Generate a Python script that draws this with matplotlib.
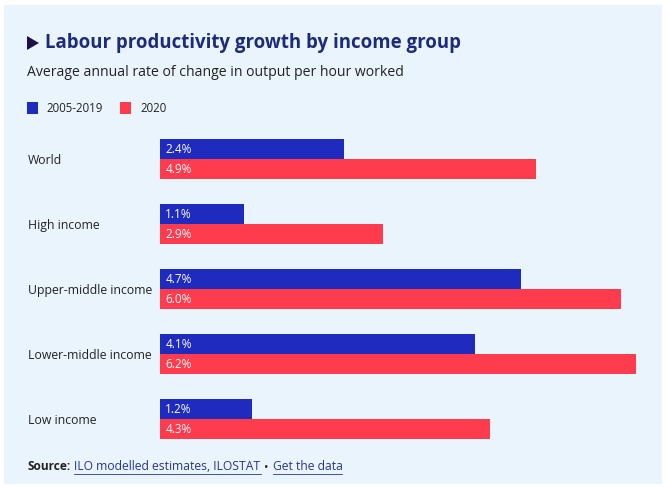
import numpy as np
import matplotlib.pyplot as plt
import matplotlib.transforms as mtrans
from matplotlib.patches import Rectangle, Polygon

groups = ['World', 'High income', 'Upper-middle income', 'Lower-middle income', 'Low income']
series_names = ['2005-2019', '2020']
v_2005_2019 = [2.4, 1.1, 4.7, 4.1, 1.2]
v_2020 = [4.9, 2.9, 6.0, 6.2, 4.3]

BLUE = '#1f2bbf'
RED = '#ff3b4e'
BG = '#eaf4fd'
NAVY = '#1e2a7a'
LINK = '#2a3590'

W, H = 667, 487
plt.rcParams['font.family'] = ['Open Sans', 'DejaVu Sans']
fig = plt.figure(figsize=(W / 100, H / 100), dpi=100, facecolor='white')


def fx(px):
    return px / W


def fy(py):
    return 1 - py / H


# light panel behind everything
fig.patches.append(Rectangle((fx(4), fy(484)), 658 / W, 479 / H,
                             transform=fig.transFigure, facecolor=BG,
                             edgecolor='none', zorder=-5))

# title + marker
fig.patches.append(Polygon([(fx(27), fy(36)), (fx(27), fy(50)), (fx(39), fy(43))],
                           closed=True, transform=fig.transFigure,
                           facecolor='#1a1245', edgecolor='none'))
fig.text(fx(45), fy(43), 'Labour productivity growth by income group', fontsize=13.4,
         fontweight='bold', color=NAVY, va='center', ha='left')
fig.text(fx(27), fy(72), 'Average annual rate of change in output per hour worked',
         fontsize=10.1, color='#222222', va='center', ha='left')

# legend
for sx, tx, col, name in [(27, 46, BLUE, series_names[0]), (120, 140, RED, series_names[1])]:
    fig.patches.append(Rectangle((fx(sx), fy(114)), 11 / W, 12 / H,
                                 transform=fig.transFigure, facecolor=col, edgecolor='none'))
    fig.text(fx(tx), fy(108), name, fontsize=8.3, color='#222222', va='center', ha='left')

# bars
top_px, bot_px = 130, 445
ax = fig.add_axes([fx(160), fy(bot_px), fx(640) - fx(160), (bot_px - top_px) / H])
ax.set_facecolor('none')
unit = 65.0
span = (bot_px - top_px) / unit
off = (159 - top_px) / unit
ax.set_ylim(span - off, -off)
ax.set_xlim(0, (640 - 160) / 76.8)
bh = 20 / unit
y = np.arange(len(groups))
ax.barh(y - bh / 2, v_2005_2019, height=bh, color=BLUE)
ax.barh(y + bh / 2, v_2020, height=bh, color=RED)
lab_tr = mtrans.blended_transform_factory(fig.transFigure, ax.transData)
for i in range(len(groups)):
    ax.text(0.07, y[i] - bh / 2 + 0.01, f'{v_2005_2019[i]:.1f}%', color='white', fontsize=8.5,
            va='center', ha='left')
    ax.text(0.07, y[i] + bh / 2 + 0.01, f'{v_2020[i]:.1f}%', color='white', fontsize=8.5,
            va='center', ha='left')
    ax.text(fx(28), y[i] + 0.02, groups[i], transform=lab_tr,
            fontsize=8.8, color='#222222', va='center', ha='left')
ax.axis('off')

# source line
fig.text(fx(28), fy(467), 'Source:', fontsize=8.6, fontweight='bold', color='#222222',
         va='center', ha='left')
fig.text(fx(74), fy(467), 'ILO modelled estimates, ILOSTAT', fontsize=8.7, color=LINK,
         va='center', ha='left')
fig.text(fx(264), fy(467), '\u2022', fontsize=8.6, color='#222222', va='center', ha='left')
fig.text(fx(273), fy(467), 'Get the data', fontsize=8.7, color=LINK,
         va='center', ha='left')
fig.add_artist(plt.Line2D([fx(74), fx(261)], [fy(474), fy(474)], color=LINK, lw=0.6))
fig.add_artist(plt.Line2D([fx(273), fx(342)], [fy(474), fy(474)], color=LINK, lw=0.6))

fig.savefig('out.png', dpi=100, facecolor='white')
